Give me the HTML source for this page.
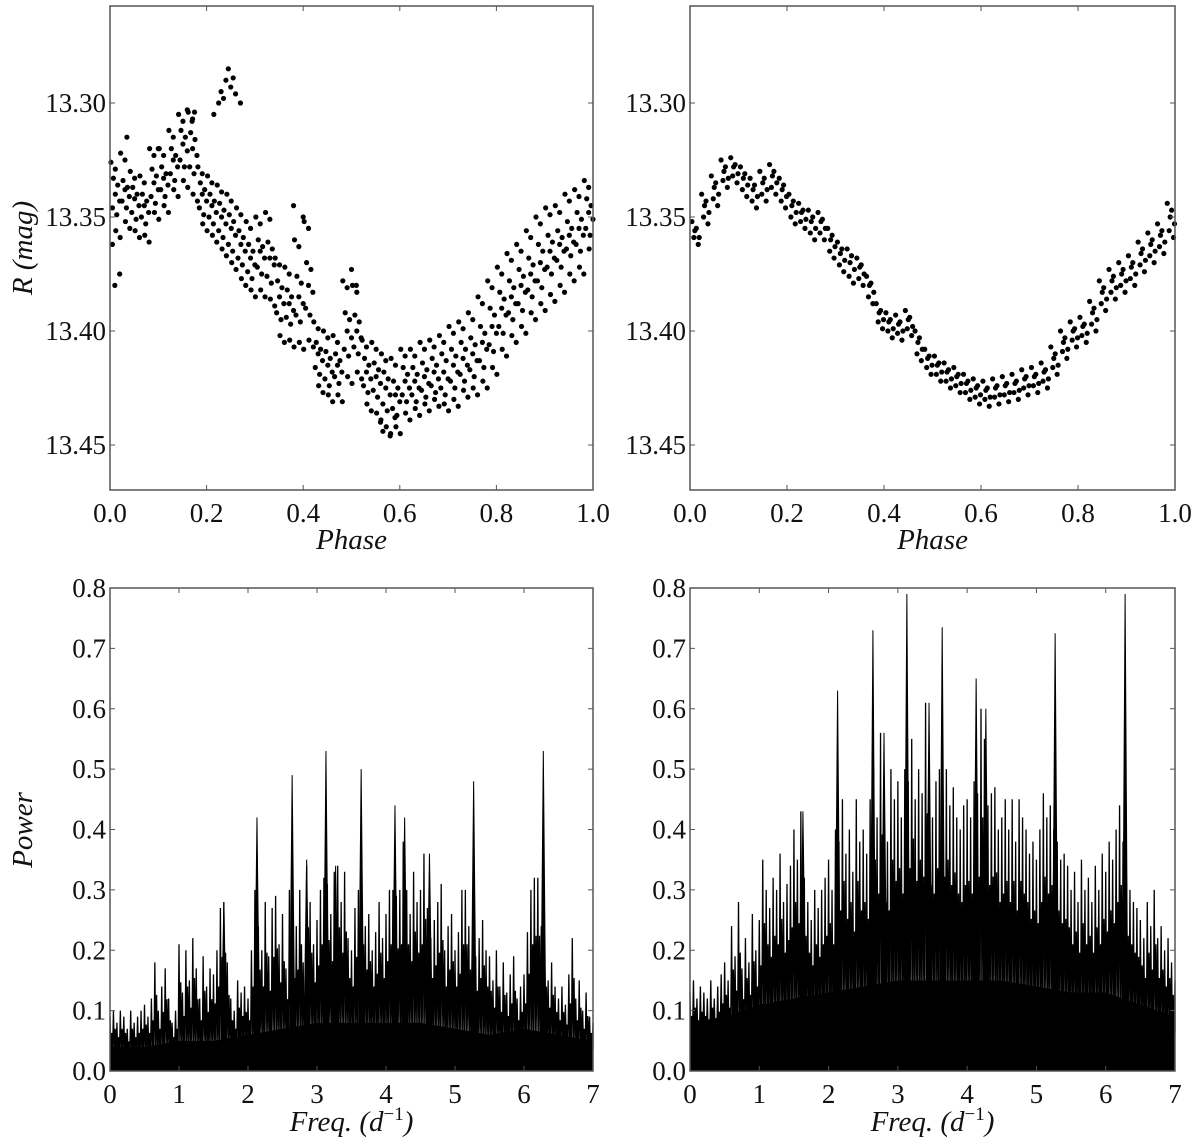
<!DOCTYPE html>
<html><head><meta charset="utf-8"><style>
body{margin:0;background:#fff}
svg{display:block}
text{font-family:"Liberation Serif","DejaVu Serif",serif}
.tk{font-size:27px;fill:#111;font-family:"Liberation Serif","DejaVu Serif",serif}
.lab{font-size:29px;font-style:italic;fill:#111;font-family:"Liberation Serif","DejaVu Serif",serif}
</style></head><body>
<svg id="fig" width="1200" height="1148" viewBox="0 0 1200 1148" xmlns="http://www.w3.org/2000/svg"></svg>
<script>
// ---- data: phase light curves ----
const phaseBins=[0.01,0.03,0.05,0.07,0.09,0.11,0.13,0.15,0.17,0.19,0.21,0.23,0.25,0.27,0.29,0.31,0.33,0.35,0.37,0.39,0.41,0.43,0.45,0.47,0.49,0.51,0.53,0.55,0.57,0.59,0.61,0.63,0.65,0.67,0.69,0.71,0.73,0.75,0.77,0.79,0.81,0.83,0.85,0.87,0.89,0.91,0.93,0.95,0.97,0.99];
const magL1=[13.326,13.322,13.330,13.332,13.320,13.320,13.312,13.305,13.304,13.328,13.332,13.336,13.340,13.346,13.352,13.350,13.348,13.368,13.372,13.360,13.352,13.396,13.400,13.402,13.378,13.380,13.404,13.405,13.410,13.412,13.408,13.408,13.405,13.404,13.402,13.398,13.396,13.392,13.385,13.378,13.372,13.366,13.362,13.356,13.350,13.346,13.345,13.340,13.338,13.334];
const magL2=[13.333,13.334,13.337,13.340,13.329,13.328,13.320,13.312,13.313,13.335,13.340,13.344,13.349,13.356,13.362,13.360,13.361,13.378,13.382,13.376,13.370,13.405,13.409,13.410,13.392,13.393,13.412,13.414,13.418,13.422,13.416,13.416,13.414,13.412,13.410,13.408,13.405,13.403,13.398,13.390,13.383,13.378,13.373,13.368,13.362,13.358,13.356,13.352,13.348,13.342];
const magL3=[13.340,13.338,13.342,13.345,13.335,13.333,13.325,13.318,13.320,13.340,13.345,13.350,13.355,13.362,13.368,13.365,13.368,13.385,13.388,13.385,13.380,13.410,13.415,13.415,13.400,13.400,13.418,13.420,13.425,13.428,13.422,13.422,13.420,13.418,13.418,13.415,13.412,13.410,13.405,13.398,13.390,13.385,13.380,13.375,13.370,13.365,13.362,13.358,13.355,13.348];
const magL4=[13.346,13.343,13.348,13.350,13.341,13.338,13.331,13.325,13.328,13.346,13.350,13.356,13.362,13.368,13.374,13.372,13.376,13.392,13.394,13.393,13.390,13.416,13.421,13.420,13.408,13.407,13.424,13.426,13.432,13.434,13.428,13.428,13.426,13.424,13.425,13.422,13.419,13.417,13.413,13.406,13.398,13.392,13.388,13.382,13.378,13.372,13.369,13.364,13.362,13.355];
const magL5=[13.356,13.352,13.356,13.358,13.348,13.345,13.338,13.334,13.340,13.353,13.358,13.364,13.370,13.377,13.382,13.382,13.386,13.402,13.404,13.405,13.404,13.424,13.428,13.428,13.420,13.418,13.432,13.436,13.442,13.442,13.436,13.434,13.432,13.430,13.432,13.430,13.426,13.425,13.422,13.416,13.408,13.402,13.398,13.392,13.388,13.384,13.380,13.375,13.372,13.364];
const outPhaseL=[0.01,0.02,0.215,0.23,0.24,0.245,0.25,0.26,0.27,0.235,0.16,0.17,0.035,0.58,0.56,0.50,0.51,0.40,0.38,0.10,0.225,0.255,0.175,0.005,0.565,0.59];
const outMagL=[13.380,13.375,13.305,13.295,13.290,13.285,13.293,13.296,13.300,13.298,13.303,13.308,13.315,13.446,13.440,13.373,13.380,13.350,13.345,13.320,13.300,13.289,13.304,13.362,13.444,13.438];
const magR2=[13.356,13.345,13.337,13.330,13.328,13.333,13.338,13.335,13.332,13.338,13.345,13.348,13.352,13.352,13.360,13.366,13.370,13.372,13.380,13.392,13.396,13.397,13.395,13.405,13.412,13.415,13.418,13.420,13.423,13.425,13.426,13.425,13.424,13.423,13.421,13.420,13.418,13.412,13.405,13.400,13.398,13.392,13.383,13.378,13.375,13.372,13.366,13.362,13.358,13.350];
const magR1=[13.352,13.340,13.332,13.325,13.324,13.328,13.333,13.330,13.327,13.333,13.340,13.344,13.347,13.348,13.355,13.361,13.364,13.368,13.376,13.388,13.392,13.393,13.391,13.400,13.408,13.411,13.414,13.416,13.419,13.421,13.422,13.421,13.420,13.419,13.417,13.416,13.414,13.407,13.400,13.396,13.394,13.387,13.378,13.373,13.370,13.367,13.361,13.357,13.353,13.344];
const magR3=[13.359,13.350,13.342,13.334,13.332,13.338,13.343,13.340,13.337,13.343,13.350,13.352,13.357,13.357,13.365,13.371,13.376,13.377,13.385,13.396,13.400,13.401,13.399,13.410,13.416,13.419,13.422,13.424,13.427,13.429,13.430,13.429,13.428,13.427,13.425,13.424,13.422,13.416,13.409,13.404,13.402,13.397,13.388,13.383,13.380,13.377,13.371,13.367,13.363,13.356];
const phaseTicks=[0.0,0.2,0.4,0.6,0.8,1.0];
const magTicks=[13.30,13.35,13.40,13.45];
// ---- data: periodograms ----
const freqStep=0.05;
const envL=[.09,.10,.08,.10,.09,.07,.10,.08,.09,.10,.11,.09,.12,.18,.10,.14,.17,.12,.08,.10,.21,.13,.20,.15,.22,.17,.12,.19,.14,.17,.16,.20,.27,.28,.18,.12,.10,.15,.13,.14,.12,.20,.30,.24,.20,.28,.19,.27,.29,.21,.26,.17,.30,.22,.24,.30,.18,.34,.28,.21,.25,.30,.32,.31,.26,.33,.34,.28,.33,.22,.20,.27,.30,.30,.24,.26,.20,.23,.28,.22,.26,.30,.30,.29,.30,.38,.30,.26,.33,.28,.30,.36,.27,.22,.25,.28,.31,.20,.24,.26,.20,.23,.30,.30,.24,.21,.19,.22,.25,.20,.19,.15,.20,.14,.18,.13,.16,.19,.12,.14,.16,.23,.30,.32,.32,.24,.20,.15,.18,.14,.12,.14,.11,.16,.22,.12,.15,.10,.13,.09,.08];
const envR=[.13,.15,.12,.14,.13,.12,.15,.12,.14,.16,.18,.15,.24,.19,.28,.17,.22,.18,.26,.20,.25,.35,.30,.27,.32,.30,.36,.28,.31,.34,.40,.35,.43,.32,.28,.25,.30,.27,.30,.32,.35,.30,.40,.38,.45,.36,.40,.33,.45,.38,.40,.36,.45,.50,.42,.56,.40,.38,.50,.45,.48,.42,.50,.48,.55,.45,.50,.46,.61,.44,.42,.48,.50,.46,.50,.44,.47,.42,.40,.44,.45,.42,.48,.46,.60,.55,.44,.46,.47,.40,.42,.45,.40,.45,.38,.45,.42,.40,.36,.38,.35,.40,.46,.42,.44,.40,.38,.35,.36,.34,.30,.33,.28,.35,.30,.32,.28,.34,.30,.36,.33,.38,.35,.40,.44,.38,.32,.30,.28,.27,.25,.22,.28,.24,.30,.22,.24,.20,.22,.18,.15];
const floorFreq=[0,0.5,1,1.5,2,2.5,3,3.5,4,4.5,5,5.5,6,6.5,7];
const floorL=[.04,.04,.05,.05,.06,.07,.08,.08,.08,.08,.07,.06,.07,.06,.05];
const floorR=[.08,.09,.11,.12,.13,.14,.15,.15,.15,.15,.14,.13,.13,.11,.09];
const peakFreqL=[1.65,2.13,2.64,2.85,3.13,3.27,3.64,4.13,4.27,4.63,5.27,6.28];
const peakPowL=[0.28,0.42,0.49,0.35,0.53,0.34,0.50,0.44,0.42,0.36,0.48,0.53];
const peakFreqR=[1.63,2.13,2.64,2.80,3.13,3.45,3.64,4.13,4.27,5.27,6.28];
const peakPowR=[0.43,0.63,0.73,0.56,0.79,0.61,0.735,0.65,0.60,0.725,0.79];
const freqTicks=[0,1,2,3,4,5,6,7];
const powTicks=[0.0,0.1,0.2,0.3,0.4,0.5,0.6,0.7,0.8];

const NS='http://www.w3.org/2000/svg';
const svg=document.getElementById('fig');
function mk(tag,attrs,parent){const e=document.createElementNS(NS,tag);for(const k in attrs)e.setAttribute(k,attrs[k]);(parent||svg).appendChild(e);return e;}
function lin(d0,d1,r0,r1){return v=>r0+(v-d0)/(d1-d0)*(r1-r0);}

function frame(g,x0,y0,x1,y1,xs,ys,xt,yt,xfmt,yfmt){
  const r=mk('rect',{x:x0,y:y0,width:x1-x0,height:y1-y0,fill:'none',stroke:'#555','stroke-width':1.5},g);
  
  
  xt.forEach(v=>{const x=xs(v);
    mk('line',{x1:x,x2:x,y1:y1,y2:y1-5,stroke:'#555'},g);mk('line',{x1:x,x2:x,y1:y0,y2:y0+5,stroke:'#555'},g);
    const t=mk('text',{x:x,y:y1+32,'text-anchor':'middle',class:'tk'},g);t.textContent=xfmt(v);
    
    });
  yt.forEach(v=>{const y=ys(v);
    mk('line',{x1:x0,x2:x0+5,y1:y,y2:y,stroke:'#555'},g);mk('line',{x1:x1,x2:x1-5,y1:y,y2:y,stroke:'#555'},g);
    const t=mk('text',{x:x0-4,y:y+9,'text-anchor':'end',class:'tk'},g);t.textContent=yfmt(v);
    
    });
}

function scatterPanel(name,x0,x1,series,offs,extraP,extraM){
  const g=mk('g',{});
  
  
  const y0=6,y1=490;
  const xs=lin(0,1,x0,x1), ys=lin(13.30,13.45,103,445);
  series.forEach((arr,k)=>{arr.forEach((m,i)=>{
    for(let j=0;j<2;j++){
      const p=phaseBins[i]+offs[k]+(j?0.009:0);
      if(p<0||p>1)continue;
      const c=mk('circle',{cx:xs(p),cy:ys(m+(j?0.003:0)),r:2.6,fill:'#000'},g);
      
      
    }});});
  if(extraP)extraP.forEach((p,i)=>{const c=mk('circle',{cx:xs(p),cy:ys(extraM[i]),r:2.6,fill:'#000'},g);
    
    });
  frame(g,x0,y0,x1,y1,xs,ys,phaseTicks,magTicks,v=>v.toFixed(1),v=>v.toFixed(2));
  const t=mk('text',{x:(x0+x1)/2,y:549,'text-anchor':'middle',class:'lab'},g);t.textContent='Phase';
  
  
}
scatterPanel('light-curve-left',110,593,[magL1,magL2,magL3,magL4,magL5],[-0.008,-0.003,0.001,-0.005,0.002],outPhaseL,outMagL);
scatterPanel('light-curve-right',690,1175,[magR1,magR2,magR3],[-0.006,0,-0.002],null,null);

function floorAt(arr,f){for(let i=0;i<floorFreq.length-1;i++){if(f<=floorFreq[i+1]){const t=(f-floorFreq[i])/(floorFreq[i+1]-floorFreq[i]);return arr[i]+t*(arr[i+1]-arr[i]);}}return arr[arr.length-1];}
function perPanel(name,x0,x1,env,flo,pf,pp){
  const g=mk('g',{});
  
  
  const y0=588,y1=1071;
  const xs=lin(0,7,x0,x1), ys=lin(0,0.8,y1,y0);
  let d='M'+xs(0)+','+ys(0);
  floorFreq.forEach((f,i)=>{d+=' L'+xs(f)+','+ys(flo[i]);});
  d+=' L'+xs(7)+','+ys(0)+'Z';
  const fp=mk('path',{d:d,fill:'#000'},g);
  
  
  let z='';
  env.forEach((v,i)=>{const f=i*freqStep;const fl=floorAt(flo,f);
    z+=(i?' L':'M')+xs(f)+','+ys(v)+' L'+xs(Math.min(7,f+0.0125))+','+ys(fl*0.7)+' L'+xs(Math.min(7,f+0.025))+','+ys(v*0.7)+' L'+xs(Math.min(7,f+0.0375))+','+ys(fl*0.8);});
  const zp=mk('path',{d:z,fill:'none',stroke:'#000','stroke-width':1.3},g);
  
  
  pf.forEach((f,i)=>{const fl=floorAt(flo,f);
    const p=mk('path',{d:'M'+(xs(f)-2.5)+','+ys(fl)+' L'+xs(f)+','+ys(pp[i])+' L'+(xs(f)+2.5)+','+ys(fl)+'Z',fill:'#000',stroke:'#000','stroke-width':1},g);
    
    });
  frame(g,x0,y0,x1,y1,xs,ys,freqTicks,powTicks,v=>String(v),v=>v.toFixed(1));
  const t=mk('text',{x:(x0+x1)/2,y:1131,'text-anchor':'middle',class:'lab'},g);
  t.innerHTML='Freq. (d<tspan dy="-11" font-size="19" font-style="normal">−1</tspan><tspan dy="11">)</tspan>';
  
  
}
perPanel('periodogram-left',110,593,envL,floorL,peakFreqL,peakPowL);
perPanel('periodogram-right',690,1175,envR,floorR,peakFreqR,peakPowR);

const yl=mk('text',{x:0,y:0,transform:'translate(32,248) rotate(-90)','text-anchor':'middle',class:'lab'});
yl.innerHTML='R <tspan font-style="italic">(mag)</tspan>';


const yl2=mk('text',{x:0,y:0,transform:'translate(32,830) rotate(-90)','text-anchor':'middle',class:'lab'});
yl2.textContent='Power';


</script>
</body></html>
